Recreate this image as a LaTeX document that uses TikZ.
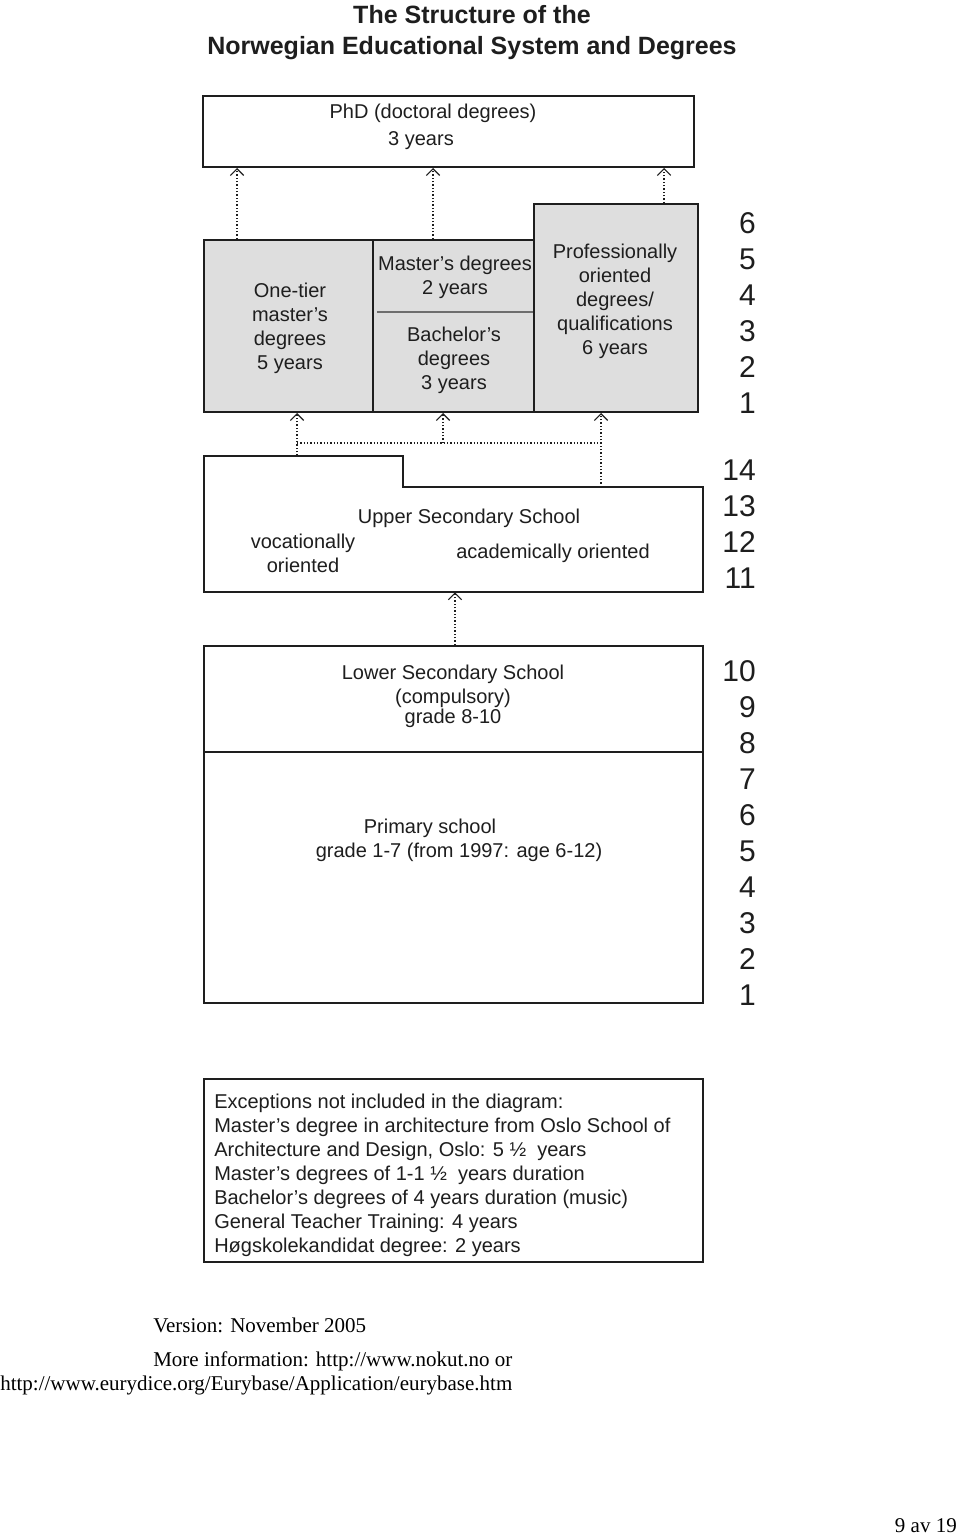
\documentclass[tikz,border=0pt]{standalone}
\usepackage{fontspec}
\setmainfont{Liberation Sans}
\newfontfamily\serifface{Liberation Serif}
\usetikzlibrary{fit,arrows.meta}
\definecolor{boxgray}{RGB}{222,222,222}
\definecolor{ink}{RGB}{30,30,30}
\definecolor{divgray}{RGB}{110,110,110}
\begin{document}
\begin{tikzpicture}[x=0.75pt,y=-0.75pt,
  box/.style={draw=ink,line width=1.5pt,inner sep=0pt},
  gbox/.style={box,fill=boxgray},
  lbl/.style={text=ink,font=\fontsize{15pt}{18pt}\selectfont,align=center,inner sep=0pt},
  yrs/.style={text=ink,font=\fontsize{22.5pt}{27pt}\selectfont,align=right,anchor=east,inner sep=0pt},
  link/.style={ink,line width=0.9pt,dash pattern=on 1.1pt off 1.4pt},
  uparrow/.style={link,-{Straight Barb[length=5pt,width=10pt,line width=0.8pt]}},
  foot/.style={text=black,font=\serifface\fontsize{15.75pt}{18pt}\selectfont,anchor=west,inner sep=0pt}]
\useasboundingbox[fill=white] (0,0) rectangle (960,1537);

% title
\node[text=ink,font=\bfseries\fontsize{18.75pt}{23.25pt}\selectfont,align=center,inner sep=0pt] (title) at (472,33)
  {The Structure of the\\Norwegian Educational System and Degrees};

% PhD
\node[box,fit={(203,96)(694,167)}] (phd) {};
\node[lbl] (phd1) at (433,113) {PhD (doctoral degrees)};
\node[lbl] (phd2) at (421,141) {3 years};

% higher education boxes
\node[gbox,fit={(204,240)(373,412)}] (onetier) {};
\node[gbox,fit={(373,240)(534,412)}] (twotier) {};
\node[gbox,fit={(534,204)(698,412)}] (prof) {};
\draw[divgray,line width=1.8pt] (377,312) -- (533,312);

\node[lbl] (onetierT) at (290,328) {One-tier\\master’s\\degrees\\5 years};
\node[lbl] (mastT) at (455,277) {Master's degrees\\2 years};
\node[lbl] (bachT) at (454,360) {Bachelor's\\degrees\\3 years};
\node[lbl] (profT) at (615,301) {Professionally\\oriented\\degrees/\\qualifications\\6 years};

% arrows to PhD
\coordinate (xa1) at (237,0);
\coordinate (xa2) at (433,0);
\coordinate (xa3) at (664,0);
\draw[uparrow] (onetier.north -| xa1) -- (phd.south -| xa1);
\draw[uparrow] (twotier.north -| xa2) -- (phd.south -| xa2);
\draw[uparrow] (prof.north -| xa3) -- (phd.south -| xa3);

% upper secondary
\draw[draw=ink,line width=1.5pt] (204,456) -- (403,456) -- (403,487) -- (703,487) -- (703,592) -- (204,592) -- cycle;
\node[inner sep=0pt,fit={(204,456)(703,592)}] (upper) {};
\coordinate (usstep) at (403,487);
\node[lbl] (upperT) at (469,518) {Upper Secondary School};
\node[lbl] (vocT) at (303,553) {vocationally\\oriented};
\node[lbl] (acaT) at (553,553) {academically oriented};

% arrows from upper secondary
\coordinate (xb1) at (297,0);
\coordinate (xb2) at (443,0);
\coordinate (xb3) at (601,0);
\coordinate (jl) at (297,443);
\coordinate (jm) at (443,443);
\coordinate (jr) at (601,443);
\draw[uparrow] (upper.north -| xb1) -- (onetier.south -| xb1);
\draw[uparrow] (usstep -| xb3) -- (prof.south -| xb3);
\draw[link] (jl) -- (jr);
\draw[uparrow] (jm) -- (twotier.south -| xb2);

% lower secondary and primary
\node[box,fit={(204,646)(703,752)}] (lower) {};
\node[box,fit={(204,752)(703,1003)}] (primary) {};
\coordinate (xc) at (455,0);
\draw[uparrow] (lower.north -| xc) -- (upper.south -| xc);
\node[lbl] (lowerT) at (453,696) {Lower Secondary School\\(compulsory)\\[-3pt]grade 8-10};
\node[lbl] (primT1) at (430,828) {Primary school};
\node[lbl] (primT2) at (459,852) {grade 1-7 (from 1997: age 6-12)};

% year numbers
\node[yrs] (yu) at (756,313.5) {6\\5\\4\\3\\2\\1};
\node[yrs] (ys) at (756,524) {14\\13\\12\\11};
\node[yrs] (yp) at (756,833) {10\\9\\8\\7\\6\\5\\4\\3\\2\\1};

% exceptions
\node[box,fit={(204,1079)(703,1262)}] (exc) {};
\node[lbl,align=left,anchor=north west] (excT) at (214,1094) {Exceptions not included in the diagram:\\
Master's degree in architecture from Oslo School of\\
Architecture and Design, Oslo: 5 ½~ years\\
Master’s degrees of 1-1 ½~ years duration\\
Bachelor’s degrees of 4 years duration (music)\\
General Teacher Training: 4 years\\
Høgskolekandidat degree: 2 years};

% footer
\node[foot] (ver) at (153,1325) {Version: November 2005};
\node[foot] (more) at (153,1361) {More information: http://www.nokut.no or};
\node[foot] (url) at (0,1385) {http://www.eurydice.org/Eurybase/Application/eurybase.htm};
\node[foot,anchor=east] (page) at (957,1526) {9 av 19};
\end{tikzpicture}
\end{document}
